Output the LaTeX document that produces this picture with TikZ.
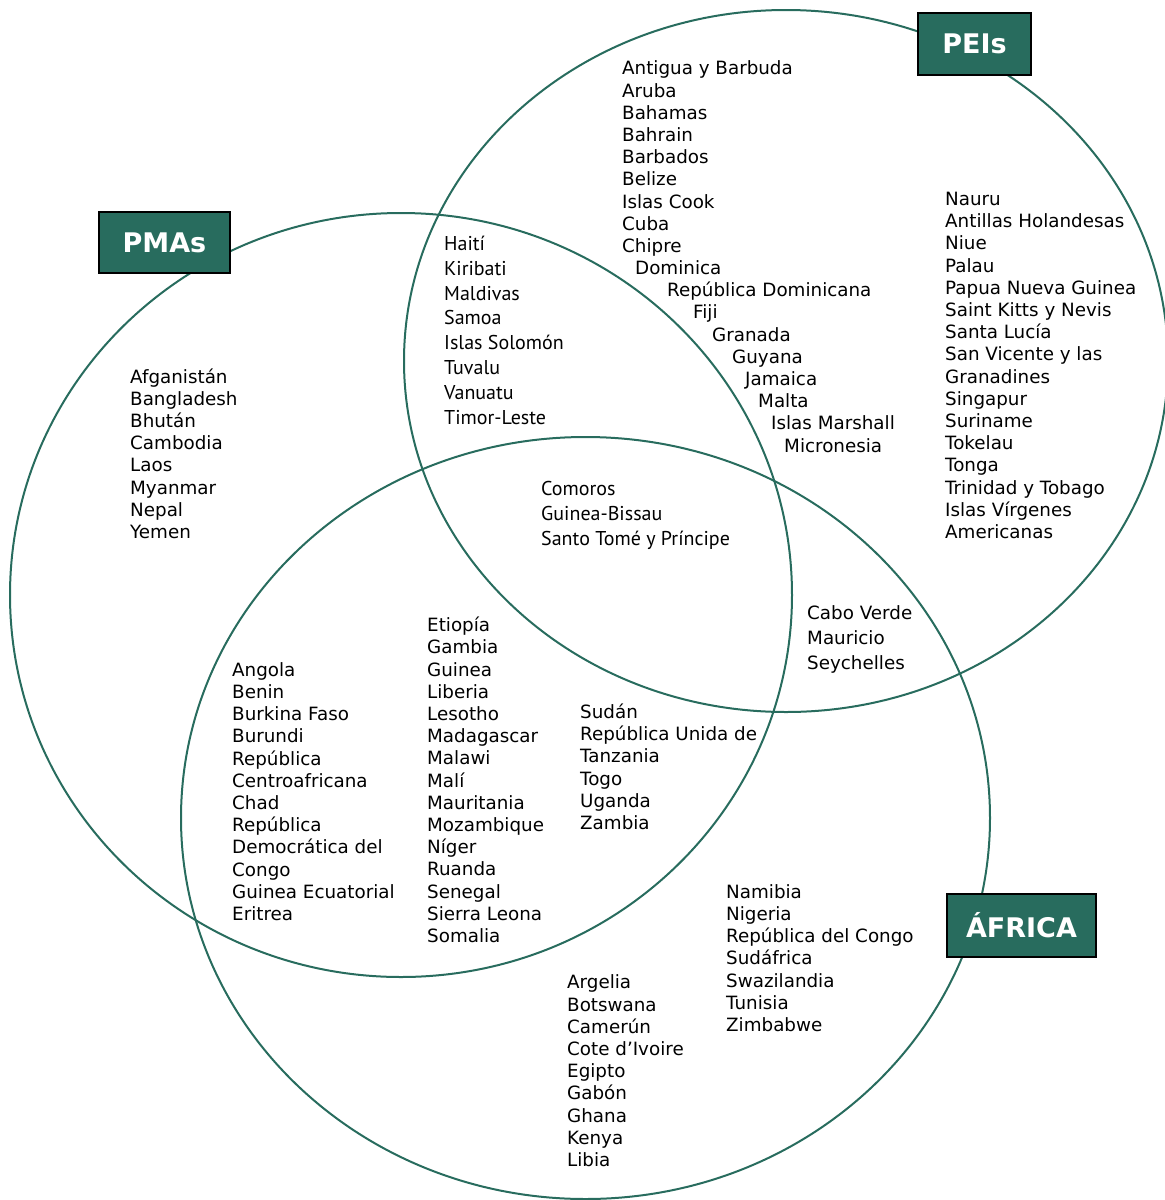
\documentclass[tikz,border=0pt]{standalone}
\usepackage{fontspec}
\setmainfont{DejaVu Sans}
\newfontfamily\humanfont{PT Sans}
\definecolor{SetGreen}{RGB}{40,108,94}
\usetikzlibrary{positioning}

\begin{document}
\begin{tikzpicture}[x=1pt, y=-1pt,
  setring/.style={draw=SetGreen, line width=2pt},
  setbox/.style={draw=black, line width=1.4pt, fill=SetGreen, text=white,
    font=\fontsize{27}{31}\selectfont\bfseries, inner sep=0pt},
  clist/.style={anchor=base west, align=left, inner sep=0pt,
    font=\fontsize{18.3}{22.2}\selectfont},
  hlist/.style={anchor=base west, align=left, inner sep=0pt,
    font=\humanfont\fontsize{20}{24.8}\selectfont}]
  \useasboundingbox (0,0) rectangle (1165,1200);
  % the three sets
  \draw[setring] (401,595) ellipse [x radius=391pt, y radius=382pt];
  \draw[setring] (786,361) ellipse [x radius=382pt, y radius=351pt];
  \draw[setring] (585.5,818) ellipse [x radius=404.5pt, y radius=381pt];
  \node[setbox, minimum width=131pt, minimum height=61pt] (pmas) at (164.5,242.5) {PMAs};
  \node[setbox, minimum width=113pt, minimum height=62pt] (peis) at (974.5,44) {PEIs};
  \node[setbox, minimum width=149pt, minimum height=63pt] (africa) at (1021.5,925.5) {ÁFRICA};
  % lists sit on the baseline of their last line
  % PEIs only
  \node[clist] (peitop) at (622,252.5) {Antigua y Barbuda\\Aruba\\Bahamas\\Bahrain\\Barbados\\Belize\\Islas Cook\\Cuba\\Chipre};
  \foreach \x/\t [count=\i] in {635/Dominica, 667/República Dominicana, 693/Fiji,
      712/Granada, 732/Guyana, 745/Jamaica, 758/Malta, 771/Islas Marshall, 784/Micronesia}
    \node[clist] (stair\i) at (\x,{274.5+22.2*(\i-1)}) {\t};
  \node[clist] (peiright) at (945,538.5) {Nauru\\Antillas Holandesas\\Niue\\Palau\\Papua Nueva Guinea\\Saint Kitts y Nevis\\Santa Lucía\\San Vicente y las\\Granadines\\Singapur\\Suriname\\Tokelau\\Tonga\\Trinidad y Tobago\\Islas Vírgenes\\Americanas};
  % PMAs only
  \node[clist] (pmaonly) at (130,538.5) {Afganistán\\Bangladesh\\Bhután\\Cambodia\\Laos\\Myanmar\\Nepal\\Yemen};
  % PMAs and PEIs
  \node[hlist] (pmapei) at (444,424) {Haití\\Kiribati\\Maldivas\\Samoa\\Islas Solomón\\Tuvalu\\Vanuatu\\Timor-Leste};
  % all three
  \node[hlist] (triple) at (541,545) {Comoros\\Guinea-Bissau\\Santo Tomé y Príncipe};
  % PEIs and África
  \node[clist, font=\fontsize{18.3}{25}\selectfont] (peiafr) at (807,669.5) {Cabo Verde\\Mauricio\\Seychelles};
  % PMAs and África
  \node[clist] (pmaafrA) at (232,920.5) {Angola\\Benin\\Burkina Faso\\Burundi\\República\\Centroafricana\\Chad\\República\\Democrática del\\Congo\\Guinea Ecuatorial\\Eritrea};
  \node[clist] (pmaafrB) at (427,942.5) {Etiopía\\Gambia\\Guinea\\Liberia\\Lesotho\\Madagascar\\Malawi\\Malí\\Mauritania\\Mozambique\\Níger\\Ruanda\\Senegal\\Sierra Leona\\Somalia};
  \node[clist] (pmaafrC) at (580,829.5) {Sudán\\República Unida de\\Tanzania\\Togo\\Uganda\\Zambia};
  % África only
  \node[clist] (afrright) at (726,1031.5) {Namibia\\Nigeria\\República del Congo\\Sudáfrica\\Swazilandia\\Tunisia\\Zimbabwe};
  \node[clist] (afrbottom) at (567,1166.5) {Argelia\\Botswana\\Camerún\\Cote d’Ivoire\\Egipto\\Gabón\\Ghana\\Kenya\\Libia};
\end{tikzpicture}
\end{document}
